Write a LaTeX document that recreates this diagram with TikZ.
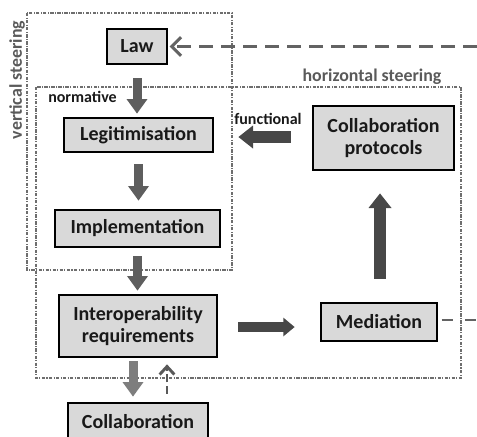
\documentclass[tikz,border=0pt]{standalone}
\usepackage{fontspec}
\setmainfont{Carlito}
\usetikzlibrary{arrows.meta}
\definecolor{boxfill}{HTML}{D9D9D9}
\definecolor{arrowdark}{HTML}{474747}
\definecolor{arrowmid}{HTML}{5E5E5E}
\definecolor{frameg}{HTML}{6E6E6E}
\definecolor{labelg}{HTML}{5A5A5A}
\tikzset{
  stepbox/.style={draw=black, line width=2pt, fill=boxfill, font=\bfseries\fontsize{15}{17}\selectfont, text=black!90, align=center, inner sep=0pt},
  frame/.style={draw=frameg, line width=0.8pt, dash pattern=on 2.5pt off 1pt on 0.8pt off 1pt},
  downarrow/.style={draw=arrowmid, line width=6.75pt, -{Triangle[width=15pt,length=11pt]}},
  bigarrow/.style={draw=arrowdark, line width=9pt, -{Triangle[width=16.5pt,length=11pt]}},
  medarrow/.style={draw=arrowdark, line width=7.5pt, -{Triangle[width=13.5pt,length=8.5pt]}},
  dashlink/.style={draw=arrowdark!85, line width=2.2pt, dash pattern=on 10.5pt off 6pt},
  smalllabel/.style={font=\bfseries\fontsize{12}{14}\selectfont, text=black!90, inner sep=0pt},
  steerlabel/.style={font=\bfseries\fontsize{13.4}{15}\selectfont, text=labelg, inner sep=0pt}
}
\begin{document}
\begin{tikzpicture}[x=0.75pt,y=-0.75pt]
\useasboundingbox (0,0) rectangle (477,436);
\clip (0,0) rectangle (477,436);
% frames
\draw[frame] (27,13) rectangle (232,270);
\draw[frame] (36,87) rectangle (461,378);
\node[steerlabel, rotate=90] (vlabel) at (17,80) {vertical steering};
\node[steerlabel] (hlabel) at (372,77) {horizontal steering};
\node[smalllabel, anchor=west] (norm) at (48,97) {normative};
\node[smalllabel] (func) at (268,119) {functional};
% boxes
\node[stepbox, minimum width=60*0.75pt, minimum height=35*0.75pt] (law) at (137,46.5) {Law};
\node[stepbox, minimum width=149*0.75pt, minimum height=34*0.75pt] (legit) at (138.5,135) {Legitimisation};
\node[stepbox, minimum width=165*0.75pt, minimum height=37*0.75pt] (impl) at (137.5,228.5) {Implementation};
\node[stepbox, minimum width=158*0.75pt, minimum height=62*0.75pt] (interop) at (138,326) {Interoperability\\requirements};
\node[stepbox, minimum width=140*0.75pt, minimum height=37*0.75pt] (collab) at (138,421.5) {Collaboration};
\node[stepbox, minimum width=116*0.75pt, minimum height=38*0.75pt] (med) at (379,322) {Mediation};
\node[stepbox, minimum width=141*0.75pt, minimum height=64*0.75pt] (proto) at (383.5,138) {Collaboration\\protocols};
% coordinates for free ends
\coordinate (lawin) at (477,46.5);
\coordinate (medout) at (477,320);
% arrows
\draw[downarrow, shorten <=9.75pt, shorten >=2.25pt] (law.south) -- (law.south |- legit.north);
\draw[downarrow, shorten <=8.25pt, shorten >=6pt] (legit.south) -- (legit.south |- impl.north);
\draw[downarrow, shorten <=6pt, shorten >=2.25pt] (impl.south) -- (impl.south |- interop.north);
\draw[downarrow, draw=arrowmid!80, shorten <=2.25pt, shorten >=3.75pt] ([xshift=-3.75pt]interop.south) -- ([xshift=-3.75pt]interop.south |- collab.north);
\draw[draw=arrowdark!90, line width=2.2pt, dash pattern=on 6pt off 2.5pt, -{Straight Barb[length=6pt,width=11pt]}, shorten <=6pt, shorten >=4.5pt] ([xshift=21.75pt]interop.south |- collab.north) -- ([xshift=21.75pt]interop.south);
\draw[medarrow, shorten <=15pt, shorten >=18.75pt] ([yshift=-0.75pt]interop.east) -- ([yshift=-0.75pt]interop.east -| med.west);
\draw[bigarrow, shorten <=17.25pt, shorten >=16.5pt] ([xshift=0.75pt]med.north) -- ([xshift=0.75pt]med.north |- proto.south);
\draw[bigarrow, shorten <=15.75pt, shorten >=18pt] ([yshift=0.75pt]proto.west) -- ([yshift=0.75pt]proto.west -| legit.east);
\draw[dashlink, -{Straight Barb[length=7pt,width=14pt]}, shorten >=1pt] (lawin) -- (law.east);
\draw[dashlink, dash pattern=on 8.5pt off 9pt, shorten <=2.5pt] ([yshift=1.5pt]med.east) -- (medout);
\end{tikzpicture}
\end{document}
